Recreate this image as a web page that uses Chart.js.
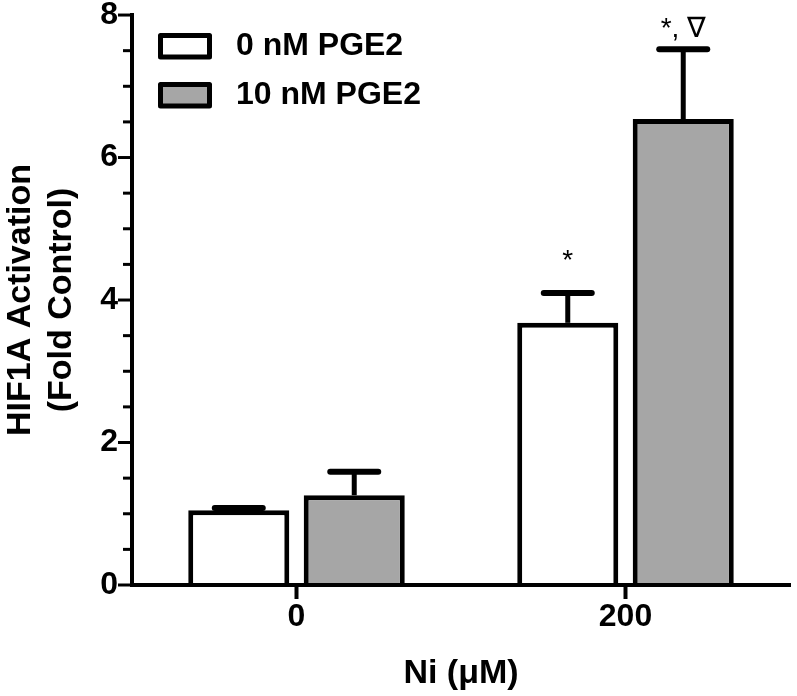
<!DOCTYPE html>
<html>
<head>
<meta charset="utf-8">
<script src="https://cdn.jsdelivr.net/npm/chart.js@4.4.1/dist/chart.umd.min.js"></script>
<style>
  html, body { margin: 0; padding: 0; background: #fff; }
  #wrap { width: 797px; height: 696px; }
</style>
</head>
<body>
<div id="wrap"><canvas id="hifChart" width="797" height="696"></canvas></div>
<script>
const categories = ['0', '200'];
const seriesLabels = ['0 nM PGE2', '10 nM PGE2'];
const pge0 = [1.05, 3.68];
const pge0Err = [0.03, 0.42];
const pge10 = [1.26, 6.54];
const pge10Err = [0.33, 0.98];
const pge0Marks = ['', '*'];
const pge10Marks = ['', '*, \u2207'];
const yMax = 8;
const yMajorStep = 2;
const yMinorStep = 0.5;

const FONT = "'Liberation Sans', Arial, Helvetica, 'DejaVu Sans', sans-serif";

// error bars, significance marks, y tick marks and the legend
const extras = {
  id: 'extras',
  afterDatasetsDraw(chart, args, opts) {
    const ctx = chart.ctx;
    const y = chart.scales.y;
    ctx.save();
    ctx.strokeStyle = '#000';
    ctx.fillStyle = '#000';
    chart.data.datasets.forEach((ds, i) => {
      chart.getDatasetMeta(i).data.forEach((bar, j) => {
        const top = y.getPixelForValue(ds.data[j] + ds.errors[j]);
        ctx.lineWidth = 5;
        ctx.lineCap = 'butt';
        ctx.beginPath();
        ctx.moveTo(bar.x, bar.y);
        ctx.lineTo(bar.x, top);
        ctx.stroke();
        ctx.lineWidth = 6;
        ctx.lineCap = 'round';
        ctx.beginPath();
        ctx.moveTo(bar.x - 24, top);
        ctx.lineTo(bar.x + 24, top);
        ctx.stroke();
        if (ds.marks[j]) {
          ctx.font = `28px ${FONT}`;
          ctx.textAlign = 'center';
          ctx.textBaseline = 'alphabetic';
          ctx.fillText(ds.marks[j], bar.x, top - opts.markGap[i]);
        }
      });
    });
    ctx.restore();
  },
  afterDraw(chart) {
    const ctx = chart.ctx;
    const y = chart.scales.y;
    const left = chart.chartArea.left;
    ctx.save();
    ctx.strokeStyle = '#000';
    ctx.lineWidth = 3;
    for (let v = 0; v <= yMax + 1e-9; v += yMinorStep) {
      const py = y.getPixelForValue(v);
      const len = (Math.abs(v % yMajorStep) < 1e-9) ? 14 : 9;
      ctx.beginPath();
      ctx.moveTo(left - len, py);
      ctx.lineTo(left, py);
      ctx.stroke();
    }
    // legend
    ctx.lineWidth = 5;
    ctx.lineJoin = 'round';
    chart.data.datasets.forEach((ds, i) => {
      const by = 35.5 + i * 49;
      ctx.fillStyle = ds.backgroundColor;
      ctx.fillRect(160.5, by, 49, 21.5);
      ctx.strokeRect(160.5, by, 49, 21.5);
      ctx.fillStyle = '#000';
      ctx.font = `bold 32px ${FONT}`;
      ctx.textAlign = 'left';
      ctx.textBaseline = 'middle';
      ctx.fillText(ds.label, 236, by + 11);
    });
    ctx.restore();
  }
};

new Chart(document.getElementById('hifChart'), {
  type: 'bar',
  data: {
    labels: categories,
    datasets: [
      {
        label: seriesLabels[0],
        data: pge0,
        errors: pge0Err,
        marks: pge0Marks,
        backgroundColor: '#ffffff',
        borderColor: '#000000',
        borderWidth: 5,
        borderSkipped: 'start'
      },
      {
        label: seriesLabels[1],
        data: pge10,
        errors: pge10Err,
        marks: pge10Marks,
        backgroundColor: '#a6a6a6',
        borderColor: '#000000',
        borderWidth: 5,
        borderSkipped: 'start'
      }
    ]
  },
  options: {
    responsive: false,
    animation: false,
    categoryPercentage: 0.702,
    barPercentage: 0.875,
    layout: { padding: { top: 0, right: 7, bottom: 0, left: 0 } },
    plugins: {
      legend: { display: false },
      tooltip: { enabled: false },
      extras: { markGap: [24, 12] }
    },
    scales: {
      x: {
        afterFit: s => { s.height = 111; },
        grid: {
          display: true,
          drawOnChartArea: false,
          offset: false,
          drawTicks: true,
          tickLength: 14,
          tickWidth: 4,
          tickColor: '#000',
          z: 1
        },
        border: { display: true, color: '#000', width: 4, z: 1 },
        ticks: {
          color: '#000',
          padding: 2,
          font: { family: FONT, size: 32, weight: 'bold', lineHeight: 1 }
        },
        title: {
          display: true,
          text: 'Ni (\u03bcM)',
          color: '#000',
          padding: { top: 0, bottom: 2 },
          font: { family: FONT, size: 34, weight: 'bold', lineHeight: 1.2 }
        }
      },
      y: {
        min: 0,
        max: yMax,
        afterFit: s => { s.width = 132; },
        grid: {
          display: true,
          drawOnChartArea: false,
          drawTicks: true,
          tickLength: 14,
          tickColor: 'rgba(0,0,0,0)'
        },
        border: { display: true, color: '#000', width: 4 },
        ticks: {
          stepSize: yMajorStep,
          color: '#000',
          padding: 0,
          font: { family: FONT, size: 32, weight: 'bold', lineHeight: 0.94 }
        },
        title: {
          display: true,
          text: ['HIF1A Activation', '(Fold Control)'],
          color: '#000',
          padding: { top: 0, bottom: 0 },
          font: { family: FONT, size: 34, weight: 'bold', lineHeight: 1.2 }
        }
      }
    }
  },
  plugins: [extras]
});
</script>
</body>
</html>
